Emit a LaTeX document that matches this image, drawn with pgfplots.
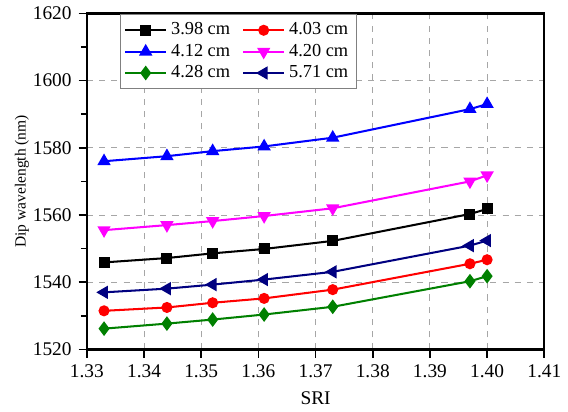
\documentclass[border={4pt 0pt 0pt 0pt}]{standalone}
\usepackage{fontspec}
\setmainfont{Liberation Serif}
\usepackage{pgfplots}
\pgfplotsset{compat=1.18}
\definecolor{dgreen}{RGB}{0,128,0}
\definecolor{navyb}{RGB}{0,0,128}
\definecolor{mymag}{RGB}{255,0,255}
\definecolor{myred}{RGB}{255,0,0}
\definecolor{myblue}{RGB}{0,0,255}
\begin{document}
\begin{tikzpicture}
\begin{axis}[
  scale only axis,
  width=224.5pt, height=165pt,
  xmin=1.33, xmax=1.41, ymin=1520, ymax=1620,
  xtick={1.33,1.34,...,1.41},
  ytick={1520,1540,...,1620},
  minor y tick num=1,
  /pgf/number format/assume math mode=true,
  /pgf/number format/1000 sep={},
  xticklabel style={/pgf/number format/fixed, /pgf/number format/fixed zerofill, /pgf/number format/precision=2},
  ticklabel style={font=\fontsize{9.5}{10}\selectfont},
  grid=major,
  major grid style={dashed, gray!70, line width=0.5pt},
  axis line style={line width=1.2pt},
  tick style={line width=0.8pt, black},
  major tick length=4pt, minor tick length=3pt,
  tick align=outside,
  xtick pos=bottom, ytick pos=left,
  xlabel={SRI}, ylabel={Dip wavelength (nm)},
  xlabel style={font=\fontsize{9.5}{10}\selectfont, yshift=0pt},
  ylabel style={font=\fontsize{7.6}{8}\selectfont, yshift=-5pt},
  every axis plot/.append style={line width=1pt, mark size=2.2pt},
  legend image code/.code={\draw[mark repeat=2,mark phase=2] plot coordinates {(0cm,0cm)(0.35cm,0cm)(0.7cm,0cm)};},
  legend columns=2,
  legend style={at={(0.072,0.998)}, anchor=north west, draw=gray, line width=0.5pt,
    font=\fontsize{9}{10}\selectfont, row sep=-1pt, inner sep=2pt,
    /tikz/every even column/.append style={column sep=4pt}},
  legend cell align=left,
]
\addplot[black, mark=square*] coordinates {(1.333,1545.9) (1.344,1547.2) (1.352,1548.6) (1.361,1549.9) (1.373,1552.3) (1.397,1560.3) (1.400,1561.8)};
\addlegendentry{3.98 cm}
\addplot[myred, mark=*] coordinates {(1.333,1531.5) (1.344,1532.5) (1.352,1533.9) (1.361,1535.2) (1.373,1537.8) (1.397,1545.5) (1.400,1546.7)};
\addlegendentry{4.03 cm}
\addplot[myblue, mark=triangle*, mark size=2.8pt] coordinates {(1.333,1576.0) (1.344,1577.5) (1.352,1579.0) (1.361,1580.4) (1.373,1583.0) (1.397,1591.5) (1.400,1593.0)};
\addlegendentry{4.12 cm}
\addplot[mymag, mark=triangle*, mark size=2.8pt, mark options={rotate=180}] coordinates {(1.333,1555.5) (1.344,1557.0) (1.352,1558.2) (1.361,1559.7) (1.373,1562.0) (1.397,1570.0) (1.400,1571.8)};
\addlegendentry{4.20 cm}
\addplot[dgreen, mark=diamond*, mark size=2.8pt] coordinates {(1.333,1526.2) (1.344,1527.7) (1.352,1528.9) (1.361,1530.4) (1.373,1532.7) (1.397,1540.3) (1.400,1541.8)};
\addlegendentry{4.28 cm}
\addplot[navyb, mark=triangle*, mark size=2.8pt, mark options={rotate=90}] coordinates {(1.333,1537.0) (1.344,1538.1) (1.352,1539.3) (1.361,1540.8) (1.373,1543.1) (1.397,1550.9) (1.400,1552.4)};
\addlegendentry{5.71 cm}
\end{axis}
\end{tikzpicture}
\end{document}
